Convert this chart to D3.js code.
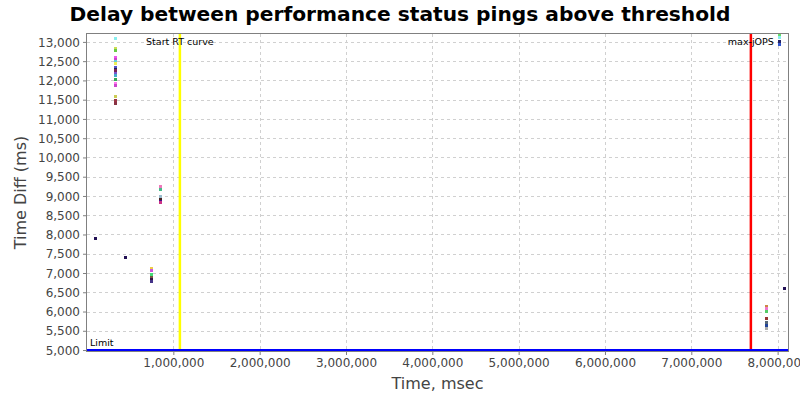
<!DOCTYPE html>
<html><head><meta charset="utf-8">
<script src="https://cdn.jsdelivr.net/npm/d3@7"></script>
<style>body{margin:0;background:#fff}svg{display:block;font-family:"DejaVu Sans",sans-serif}</style>
</head><body><svg id="c" width="800" height="400"></svg>
<script>
// ---- data ----
const title = "Delay between performance status pings above threshold";
const xLabel = "Time, msec";
const yLabel = "Time Diff (ms)";
const xTicks = [1000000,2000000,3000000,4000000,5000000,6000000,7000000,8000000];
const yTicks = [5000,5500,6000,6500,7000,7500,8000,8500,9000,9500,10000,10500,11000,11500,12000,12500,13000];
const pointX = [
  324000,324000,324000,324000,324000,324000,324000,324000,324000,324000,324000,324000,324000,324000,324000,324000,324000,324000,
  93000,440000,
  740000,740000,740000,740000,740000,740000,
  845000,845000,845000,845000,845000,845000,
  7860000,7860000,7860000,7860000,7860000,7860000,7860000,
  8070000,
  8020000,8020000,8020000,8020000
];
const pointY = [
  13100,12830,12800,12620,12560,12510,12450,12360,12300,12270,12190,12140,12040,11940,11880,11600,11490,11420,
  7910,7420,
  7140,7080,6975,6905,6850,6790,
  9260,9180,9000,8930,8870,8845,
  6140,6085,6025,5825,5715,5660,5575,
  6600,
  13180,13130,13025,12950
];
const pointColor = [
  "#88eeee","#ccdd55","#66cc44","#ee55ee","#cc44cc","#66ccdd","#eeee55","#5555cc","#222255","#772255","#7755cc","#44aacc","#33aa55","#ff77ee","#cc44cc","#cccc55","#993344","#883344",
  "#221155","#221155",
  "#eecc44","#cc55dd","#44dd77","#775544","#331144","#443388",
  "#ee77bb","#44bb88","#99bbcc","#442222","#441188","#cc3388",
  "#cc8844","#ee77cc","#55cc66","#993333","#556677","#224499","#aaaaaa",
  "#221155",
  "#66dd66","#88eeee","#222266","#3355cc"
];
const markers = [
  {value: 1076000, label: "Start RT curve", color: "#ffff00"},
  {value: 7690000, label: "max-jOPS", color: "#ff0000"}
];
const limitValue = 5000, limitLabel = "Limit";

// ---- layout ----
const svg = d3.select("#c");
const L = 87, R = 788, T = 34, B = 351;
const x = d3.scaleLinear().domain([0, 8120000]).range([L, R]);
const y = d3.scaleLinear().domain([4975, 13205]).range([B, T]);
const fmt = d3.format(",");

svg.append("text").attr("x", 400).attr("y", 21).attr("text-anchor", "middle")
  .attr("font-size", 20.2).attr("font-weight", "bold").text(title);

svg.append("rect").attr("x", L).attr("y", T).attr("width", R - L).attr("height", B - T).attr("fill", "#fff");

// gridlines
svg.append("g").selectAll("line").data(xTicks).join("line")
  .attr("x1", d => Math.round(x(d)) + 0.5).attr("x2", d => Math.round(x(d)) + 0.5)
  .attr("y1", T).attr("y2", B).attr("stroke", "#d0d0d0").attr("stroke-dasharray", "3,3");
svg.append("g").selectAll("line").data(yTicks).join("line")
  .attr("y1", d => Math.round(y(d)) + 0.5).attr("y2", d => Math.round(y(d)) + 0.5)
  .attr("x1", L).attr("x2", R).attr("stroke", "#d0d0d0").attr("stroke-dasharray", "3,3");

// markers
markers.forEach(m => {
  svg.append("line").attr("x1", x(m.value)).attr("x2", x(m.value)).attr("y1", T).attr("y2", B)
    .attr("stroke", m.color).attr("stroke-width", 2.5);
  svg.append("text").attr("x", x(m.value)).attr("y", T + 11).attr("text-anchor", "middle")
    .attr("font-size", 9.5).attr("fill", "#000").text(m.label);
});

// points
svg.append("g").selectAll("rect").data(pointX.map((d, i) => i)).join("rect")
  .attr("x", i => Math.round(x(pointX[i])) - 1).attr("y", i => Math.round(y(pointY[i])) - 1)
  .attr("width", 3).attr("height", 3).attr("fill", i => pointColor[i]);

// limit line
svg.append("line").attr("x1", L).attr("x2", R).attr("y1", y(limitValue)).attr("y2", y(limitValue))
  .attr("stroke", "#0000ff").attr("stroke-width", 2);
svg.append("text").attr("x", L + 3).attr("y", y(limitValue) - 4).attr("font-size", 9.5).text(limitLabel);

// border
svg.append("rect").attr("x", L - 0.5).attr("y", T - 0.5).attr("width", R - L + 1).attr("height", B - T + 1)
  .attr("fill", "none").attr("stroke", "#808080");

// axes
const xAxis = svg.append("g").attr("transform", `translate(0,${B + 1})`)
  .call(d3.axisBottom(x).tickValues(xTicks).tickFormat(fmt).tickSize(3).tickSizeOuter(0));
const yAxis = svg.append("g").attr("transform", `translate(${L - 1},0)`)
  .call(d3.axisLeft(y).tickValues(yTicks).tickFormat(fmt).tickSize(3).tickSizeOuter(0));
[xAxis, yAxis].forEach(a => {
  a.select(".domain").remove();
  a.selectAll("line").attr("stroke", "#808080");
  a.selectAll("text").attr("font-size", 12).attr("fill", "#444").attr("font-family", "DejaVu Sans");
});
yAxis.selectAll("text").attr("dy", "0.35em");

svg.append("text").attr("x", (L + R) / 2).attr("y", 389).attr("text-anchor", "middle")
  .attr("font-size", 16).attr("fill", "#444").text(xLabel);
svg.append("text").attr("transform", `translate(26,${(T + B) / 2}) rotate(-90)`).attr("text-anchor", "middle")
  .attr("font-size", 16).attr("fill", "#444").text(yLabel);
</script></body></html>
